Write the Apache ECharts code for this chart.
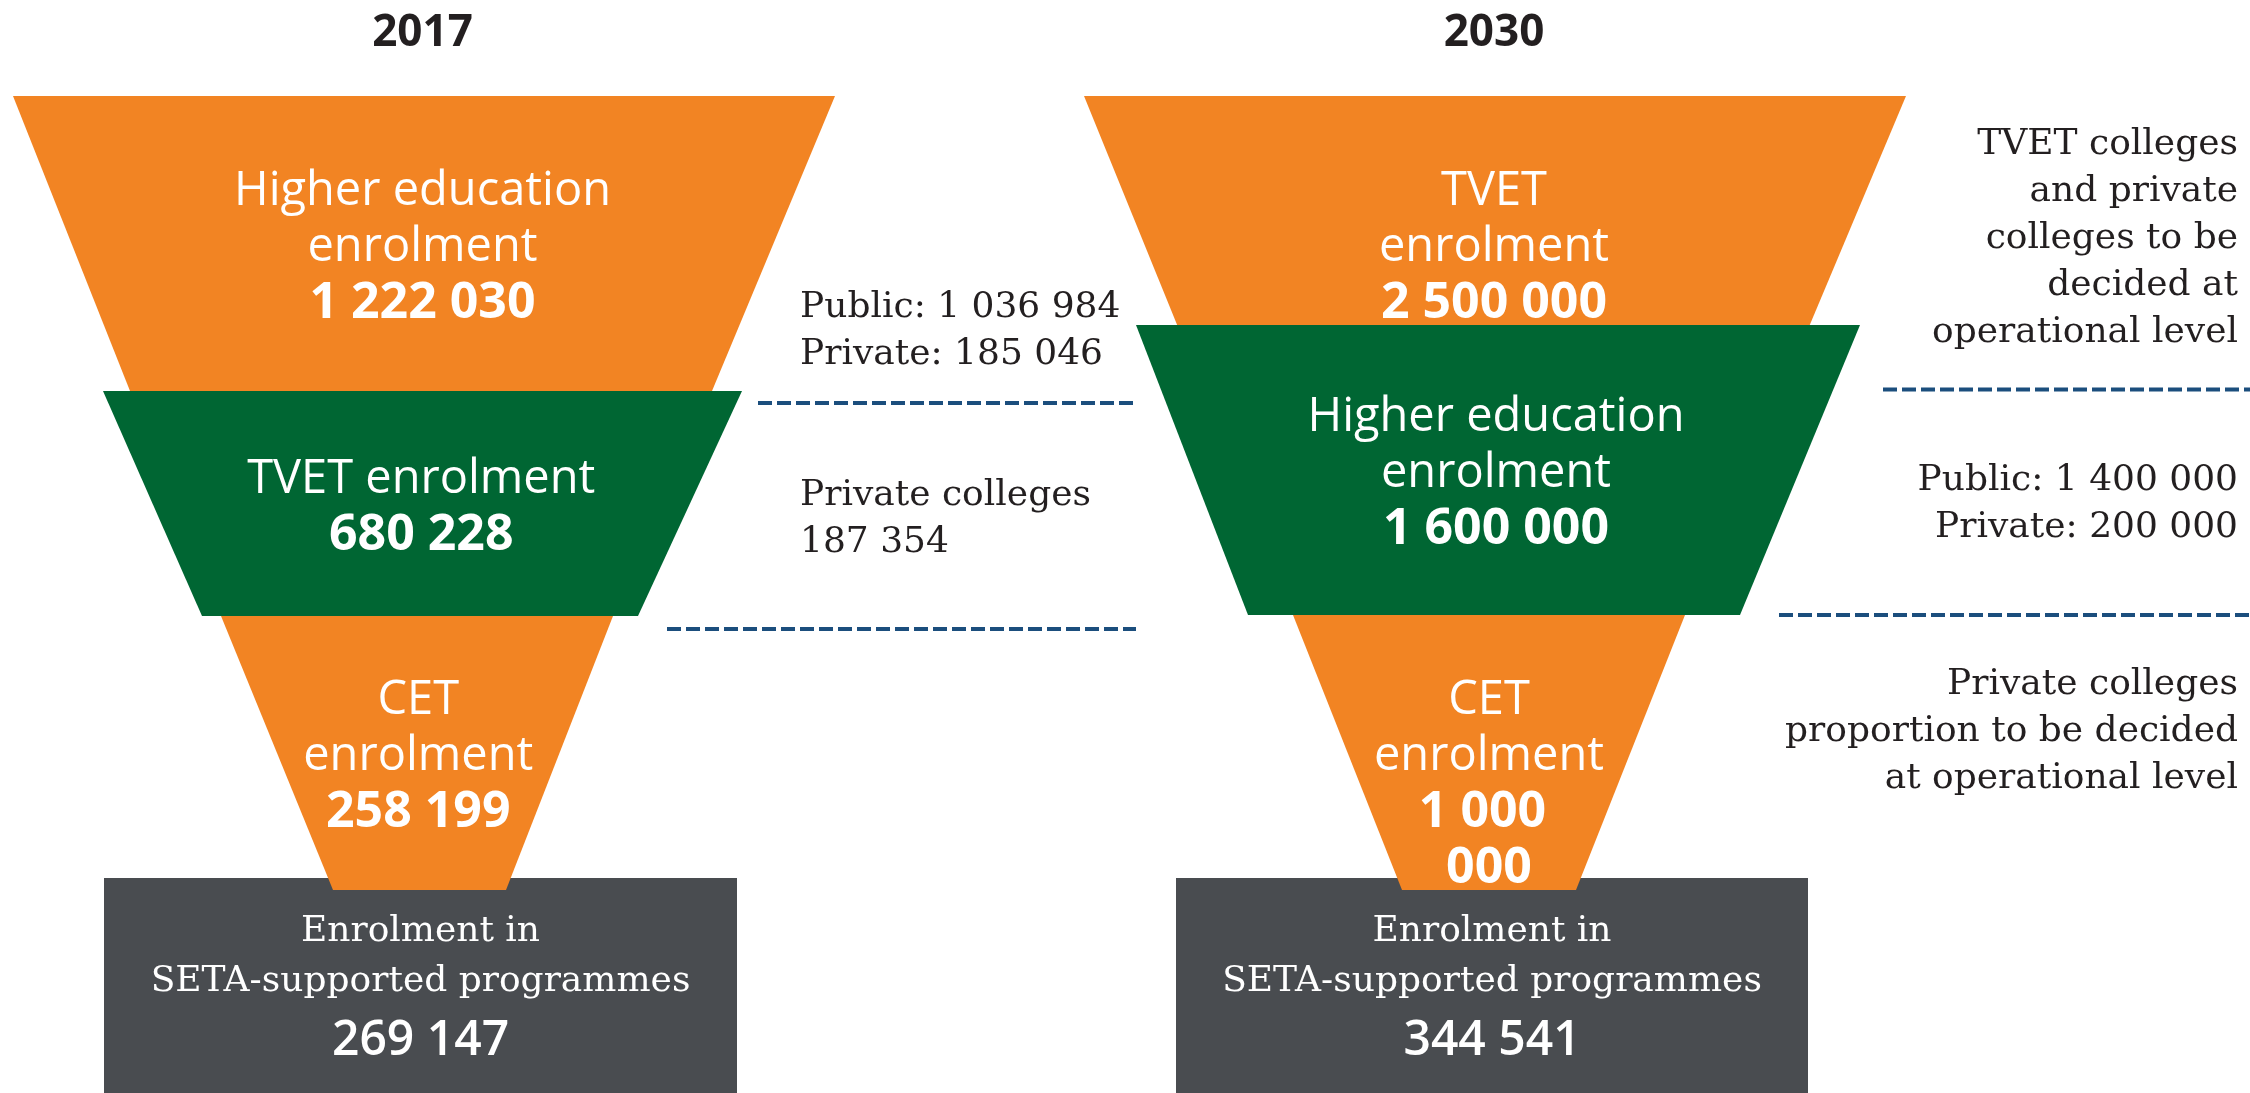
<!DOCTYPE html>
<html><head><meta charset="utf-8">
<script src="https://cdn.jsdelivr.net/npm/echarts@6/dist/echarts.min.js"></script>
<style>html,body{margin:0;padding:0;background:#fff}#chart{width:2250px;height:1093px}</style>
</head><body><div id="chart"></div>
<script>
// ---------- data ----------
const years = ['2017', '2030'];
const stages2017 = ['Higher education\nenrolment', 'TVET enrolment', 'CET\nenrolment'];
const values2017 = [1222030, 680228, 258199];
const stages2030 = ['TVET\nenrolment', 'Higher education\nenrolment', 'CET\nenrolment'];
const values2030 = [2500000, 1600000, 1000000];
const setaLabel = 'Enrolment in\nSETA-supported programmes';
const setaValues = [269147, 344541];
const notes = [
  'Public: 1 036 984\nPrivate: 185 046',
  'Private colleges\n187 354',
  'TVET colleges\nand private\ncolleges to be\ndecided at\noperational level',
  'Public: 1 400 000\nPrivate: 200 000',
  'Private colleges\nproportion to be decided\nat operational level'
];

// ---------- layout geometry (axis units) ----------
// [yTop, yBottom, xTopLeft, xTopRight, xBottomLeft, xBottomRight]
const shapes2017 = [
  [96, 391, 13, 835, 130, 712],
  [391, 616, 103, 742, 202, 638],
  [616, 890, 221, 613, 333, 506]
];
const shapes2030 = [
  [96, 391, 1084, 1906, 1204, 1782],
  [325, 615, 1136, 1860, 1248, 1740],
  [615, 890, 1293, 1685, 1402, 1576]
];
// [yTop, yBottom, xLeft, xRight]
const boxes = [[878, 1093, 104, 737], [878, 1093, 1176, 1808]];
// [x, yCenter, align]
const notePos = [[800, 331, 'left'], [800, 519, 'left'], [2238, 239, 'right'], [2238, 504, 'right'], [2238, 732, 'right']];
// [x1, x2, y]
const dashes = [[758, 1136, 403], [667, 1136, 629], [1883, 2250, 389.5], [1779, 2250, 615]];

// ---------- styles ----------
const stageColors = ['#F28423', '#006633', '#F28423'];
const boxColor = '#494C50';
const dashColor = '#1B4E7D';
const textDark = '#231F20';
const SANS = '"Open Sans", "Noto Sans", sans-serif';
const SERIF = '"DejaVu Serif", serif';

function fmt(n) { return String(n).replace(/\B(?=(\d{3})+(?!\d))/g, ' '); }

const chart = echarts.init(document.getElementById('chart'), null, { renderer: 'canvas' });

const stageData = [];
[stages2017, stages2030].forEach((names, yi) => names.forEach((nm, si) => stageData.push([yi, si])));

function renderStage(params, api) {
  const yi = api.value(0), si = api.value(1);
  const shp = (yi === 0 ? shapes2017 : shapes2030)[si];
  const names = yi === 0 ? stages2017 : stages2030;
  const vals = yi === 0 ? values2017 : values2030;
  const [yT, yB, xTL, xTR, xBL, xBR] = shp;
  const pts = [[xTL, yT], [xTR, yT], [xBR, yB], [xBL, yB]].map(p => api.coord(p));
  const top = pts[0][1], bot = pts[2][1];
  const cx = (pts[0][0] + pts[1][0] + pts[2][0] + pts[3][0]) / 4;
  const cy = (top + bot) / 2 + 4;
  const lines = names[si].split('\n');
  const LH = 56;
  const n = lines.length + 1;
  const y0 = cy - (n - 1) * LH / 2;
  const numY = y0 + lines.length * LH;
  const t = (numY - top) / (bot - top);
  const wAt = (pts[1][0] - pts[0][0]) * (1 - t) + (pts[2][0] - pts[3][0]) * t;
  const children = [
    { type: 'polygon', shape: { points: pts }, style: { fill: stageColors[si] } },
    { type: 'text', style: { text: names[si], x: cx, y: y0 - LH / 2, align: 'center', verticalAlign: 'top', lineHeight: LH, fill: '#fff', font: '47px ' + SANS } },
    { type: 'text', style: { text: fmt(vals[si]), x: cx, y: numY - LH / 2, align: 'center', verticalAlign: 'top', lineHeight: LH, width: wAt * 0.85, overflow: 'break', fill: '#fff', font: 'bold 50px ' + SANS } }
  ];
  if (si === 0) {
    children.push({ type: 'text', style: { text: years[yi], x: cx, y: api.coord([0, 33])[1], align: 'center', verticalAlign: 'middle', fill: textDark, font: 'bold 44px ' + SANS } });
  }
  return { type: 'group', children };
}

function renderBox(params, api) {
  const i = api.value(0);
  const [yT, yB, xL, xR] = boxes[i];
  const p1 = api.coord([xL, yT]), p2 = api.coord([xR, yB]);
  const cx = (p1[0] + p2[0]) / 2;
  return { type: 'group', children: [
    { type: 'rect', shape: { x: p1[0], y: p1[1], width: p2[0] - p1[0], height: p2[1] - p1[1] }, style: { fill: boxColor } },
    { type: 'text', style: { text: setaLabel, x: cx, y: p1[1] + 29, align: 'center', verticalAlign: 'top', lineHeight: 50, fill: '#fff', font: '36px ' + SERIF } },
    { type: 'text', style: { text: fmt(setaValues[i]), x: cx, y: p1[1] + 163, align: 'center', verticalAlign: 'middle', fill: '#fff', font: '600 48px ' + SANS } }
  ] };
}

function renderNote(params, api) {
  const i = api.value(0);
  const [x, y, al] = notePos[i];
  const p = api.coord([x, y]);
  return { type: 'text', style: { text: notes[i], x: p[0], y: p[1], align: al, verticalAlign: 'middle', lineHeight: 47, fill: textDark, font: '36px ' + SERIF } };
}

function renderDash(params, api) {
  const i = api.value(0);
  const [x1, x2, y] = dashes[i];
  const a = api.coord([x1, y]), b = api.coord([x2, y]);
  return { type: 'line', shape: { x1: a[0], y1: a[1], x2: b[0], y2: b[1] }, style: { stroke: dashColor, lineWidth: 4, lineDash: [14, 5] } };
}

chart.setOption({
  animation: false,
  backgroundColor: '#ffffff',
  grid: { left: 0, right: 0, top: 0, bottom: 0 },
  xAxis: { type: 'value', min: 0, max: 2250, show: false },
  yAxis: { type: 'value', min: 0, max: 1093, inverse: true, show: false },
  series: [
    { type: 'custom', z: 1, clip: false, renderItem: renderBox, data: boxes.map((b, i) => [i]) },
    { type: 'custom', z: 2, clip: false, renderItem: renderStage, data: stageData },
    { type: 'custom', z: 3, clip: false, renderItem: renderNote, data: notes.map((n, i) => [i]) },
    { type: 'custom', z: 3, clip: false, renderItem: renderDash, data: dashes.map((d, i) => [i]) }
  ]
});
</script></body></html>
